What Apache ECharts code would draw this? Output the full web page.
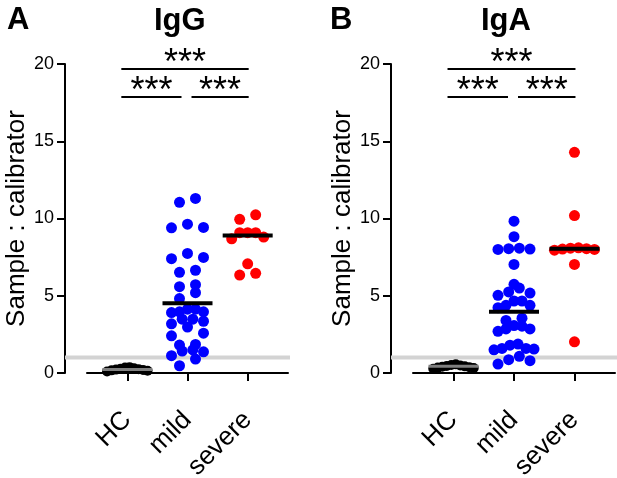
<!DOCTYPE html>
<html><head><meta charset="utf-8">
<script src="https://cdn.jsdelivr.net/npm/echarts@6/dist/echarts.min.js"></script>
<style>html,body{margin:0;padding:0;background:#fff}#c{width:617px;height:478px}</style>
</head><body><div id="c"></div>
<script>
// ---------------- data ----------------
const categories = ['HC', 'mild', 'severe'];
const panelLetters = ['A', 'B'];
const panelTitles = ['IgG', 'IgA'];
const yAxisName = 'Sample : calibrator';
const yMin = 0, yMax = 20, yTickInterval = 5;

const IgG_HC = [0.1, 0.14, 0.17, 0.2, 0.22, 0.25, 0.28, 0.31, 0.35, 0.38];
const IgG_mild = [11.3, 11.05, 9.63, 9.42, 9.4, 7.74, 7.48, 7.4, 6.65, 6.52, 5.72, 5.59, 5.2, 4.82,
  4.13, 4.13, 3.96, 3.96, 3.91, 3.48, 3.48, 3.35, 3.18, 2.97, 2.58, 2.41, 1.85, 1.81, 1.5, 1.42,
  1.37, 1.12, 0.9, 0.47];
const IgG_severe = [10.24, 9.95, 9.08, 9.08, 9.08, 8.8, 8.69, 7.07, 6.45, 6.34];

const IgA_HC = [0.28, 0.32, 0.35, 0.38, 0.4, 0.43, 0.46, 0.49, 0.52, 0.56];
const IgA_mild = [9.83, 8.82, 8.08, 8.05, 8.02, 8.0, 7.03, 5.74, 5.5, 5.25, 5.17, 5.03, 4.66, 4.66,
  4.38, 4.38, 4.23, 3.55, 3.4, 3.07, 3.03, 2.85, 2.85, 2.7, 1.87, 1.8, 1.59, 1.59, 1.55, 1.5,
  1.08, 0.86, 0.8, 0.58];
const IgA_severe = [14.28, 10.19, 8.1, 8.08, 8.05, 8.02, 8.0, 7.95, 7.03, 2.02];

const IgG_median = [0.22, 4.52, 8.9];
const IgA_median = [0.43, 3.96, 8.04];

const referenceLevel = 1;
const comparisons = [[1, 2], [2, 3], [1, 3]];
const significance = ['***', '***', '***'];

// ---------------- layout / style ----------------
const groupColors = ['#000000', '#0000ff', '#ff0000'];
const groupSizes = [10, 11, 11];
const groupMinSpacing = [4.5, 8, 8];
const medianColors = ['#808080', '#000000', '#000000'];
const medianHeights = [3, 4, 4];
const panels = [
  { grid: { left: 87, top: 64, width: 201, height: 309 }, letterX: 2, titleX: 149,
    groups: [IgG_HC, IgG_mild, IgG_severe], median: IgG_median },
  { grid: { left: 413, top: 64, width: 202, height: 309 }, letterX: 325, titleX: 476,
    groups: [IgA_HC, IgA_mild, IgA_severe], median: IgA_median }
];
const Y_OFFSET = 22, X_OFFSET = 24;
const sigY = [17.86, 19.67];
const FONT = 'Liberation Sans, Arial, sans-serif';

function swarm(values, pxPerUnit, minSp) {
  const idx = values.map((v, i) => i).sort((a, b) => values[a] - values[b]);
  const off = new Array(values.length).fill(0);
  const rowH = 9;
  let k = 0;
  while (k < idx.length) {
    const start = values[idx[k]];
    const row = [];
    while (k < idx.length && (values[idx[k]] - start) * pxPerUnit < rowH) { row.push(idx[k]); k++; }
    const n = row.length;
    if (n > 1) {
      const sp = Math.max(minSp, Math.min(16, 32 / (n - 1)));
      const order = [];
      let l = 0, r = n - 1;
      while (l <= r) { order.push(l); if (l !== r) order.push(r); l++; r--; }
      row.forEach((id, q) => { off[id] = (order[q] - (n - 1) / 2) * sp; });
    }
  }
  return off;
}

const chart = echarts.init(document.getElementById('c'), null, { renderer: 'canvas' });
const option = {
  backgroundColor: '#fff',
  animation: false,
  title: [],
  grid: [], xAxis: [], yAxis: [], series: []
};

panels.forEach((p, pi) => {
  option.title.push({ text: panelLetters[pi], left: p.letterX, top: 0,
    textStyle: { fontFamily: FONT, fontWeight: 'bold', fontSize: 31, color: '#000' } });
  option.title.push({ text: panelTitles[pi], left: p.titleX, top: 1,
    textStyle: { fontFamily: FONT, fontWeight: 'bold', fontSize: 31, color: '#000' } });
  option.grid.push(Object.assign({ outerBoundsMode: 'none', containLabel: false }, p.grid));
  option.xAxis.push({
    type: 'value', gridIndex: pi, min: 0.33, max: 3.67, offset: X_OFFSET,
    axisLine: { show: true, lineStyle: { color: '#000', width: 2 } },
    axisTick: { show: true, customValues: [1, 2, 3], length: 8, lineStyle: { color: '#000', width: 2 } },
    axisLabel: { customValues: [1, 2, 3], formatter: v => categories[Math.round(v) - 1], rotate: 45,
      fontSize: 26, fontFamily: FONT, color: '#000', margin: 19 },
    splitLine: { show: false }
  });
  option.yAxis.push({
    type: 'value', gridIndex: pi, min: yMin, max: yMax, interval: yTickInterval, offset: Y_OFFSET,
    name: yAxisName, nameLocation: 'middle', nameGap: 34,
    nameTextStyle: { fontSize: 26, fontFamily: FONT, color: '#000' },
    axisLine: { show: true, lineStyle: { color: '#000', width: 2 } },
    axisTick: { show: true, length: 8, lineStyle: { color: '#000', width: 2 } },
    axisLabel: { fontSize: 18, fontFamily: FONT, color: '#000', margin: 11 },
    splitLine: { show: false }
  });
  // reference line
  option.series.push({
    type: 'custom', xAxisIndex: pi, yAxisIndex: pi, clip: false, z: 1, silent: true,
    data: [[2, referenceLevel]], encode: { x: 0, y: 1 },
    renderItem: (params, api) => {
      const cs = params.coordSys;
      const y = api.coord([api.value(0), api.value(1)])[1];
      return { type: 'line', shape: { x1: cs.x - Y_OFFSET, y1: y, x2: cs.x + cs.width + 2, y2: y },
        style: { stroke: '#d3d3d3', lineWidth: 4 } };
    }
  });
  const pxPerUnit = p.grid.height / (yMax - yMin);
  p.groups.forEach((vals, gi) => {
    const off = swarm(vals, pxPerUnit, groupMinSpacing[gi]);
    option.series.push({
      type: 'scatter', xAxisIndex: pi, yAxisIndex: pi, z: 3,
      symbol: 'circle', symbolSize: groupSizes[gi],
      itemStyle: { color: groupColors[gi], opacity: 1 },
      data: vals.map((v, i) => ({ value: [gi + 1, v], symbolOffset: [off[i], 0] }))
    });
  });
  option.series.push({
    type: 'scatter', xAxisIndex: pi, yAxisIndex: pi, z: 5, symbol: 'rect',
    data: p.median.map((m, gi) => ({ value: [gi + 1, m], symbolSize: [50, medianHeights[gi]],
      itemStyle: { color: medianColors[gi], opacity: 1 } }))
  });
  option.series.push({
    type: 'custom', xAxisIndex: pi, yAxisIndex: pi, clip: false, z: 6, silent: true,
    data: comparisons.map((c, ci) => [c[0], c[1], ci]), encode: { x: [0, 1] },
    renderItem: (params, api) => {
      const i = api.value(0), j = api.value(1), ci = api.value(2);
      const level = (j - i > 1) ? 1 : 0;
      const yv = sigY[level];
      const p1 = api.coord([i, yv]), p2 = api.coord([j, yv]);
      let x1 = p1[0] - 6, x2 = p2[0] + 1;
      if (level === 0 && i === 2) x1 = p1[0] + 4;
      if (level === 0 && j === 2) x2 = p2[0] - 6;
      const y = p1[1];
      return { type: 'group', children: [
        { type: 'line', shape: { x1, y1: y, x2, y2: y }, style: { stroke: '#000', lineWidth: 2 } },
        { type: 'text', x: (x1 + x2) / 2, y: y - 5,
          style: { text: significance[ci], fontSize: 36, fontFamily: FONT, fill: '#000',
            align: 'center', verticalAlign: 'middle' } }
      ] };
    }
  });
});

chart.setOption(option);
</script></body></html>
